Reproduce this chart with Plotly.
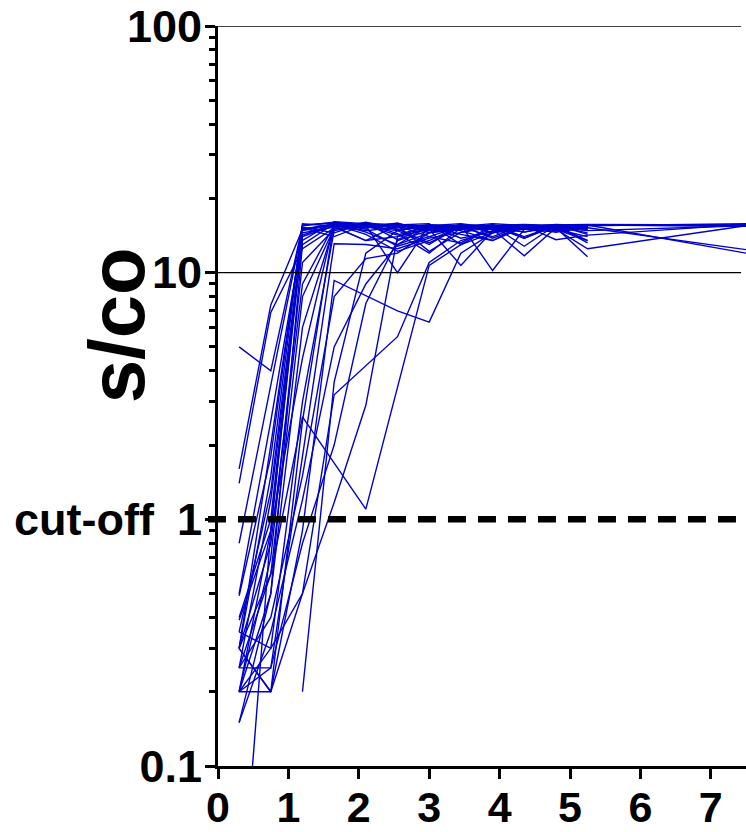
import plotly.graph_objects as go

# Sampling times (x) shared by all subjects
X = [0.3, 0.75, 1.2, 1.65, 2.1, 2.55, 3.0, 3.45, 3.9, 4.35, 4.8, 5.25, 7.5]

# s/co values per subject (None = no sample)
S01 = [1.6, 7.4, 15.0, 15.8, 15.5, 14.2, 15.6, 15.4, 15.8, 15.5, 15.6, 15.7, 15.6]
S02 = [1.4, 6.9, 12.5, 15.2, 16.0, 15.0, 13.2, 15.3, 14.0, 15.6, 15.2, 15.4, None]
S03 = [5.0, 4.0, 15.5, 16.0, 15.6, 15.8, 15.1, 15.5, 13.8, 15.3, 15.7, 15.5, 15.8]
S04 = [0.8, 3.5, 15.3, 14.5, 15.9, 13.6, 15.4, 15.0, 15.5, 14.6, 15.3, 15.6, 15.4]
S05 = [0.5, 2.5, 14.2, 15.7, 14.3, 12.2, 13.5, 15.5, 15.4, 13.8, 15.5, 15.0, None]
S06 = [0.3, 1.5, 15.8, 15.4, 13.5, 15.6, 15.8, 13.0, 15.3, 15.5, 13.6, 14.2, 15.7]
S07 = [0.25, 1.2, 13.5, 16.1, 15.8, 14.4, 12.0, 15.2, 15.6, 13.8, 15.5, 13.5, None]
S08 = [0.2, 0.9, 14.8, 15.6, 15.2, 15.9, 14.5, 15.7, 14.5, 15.6, 15.4, 15.2, 12.4]
S09 = [0.3, 2.0, 15.2, 14.0, 15.7, 15.5, 14.0, 13.2, 15.5, 12.8, 15.6, 14.3, None]
S10 = [0.39, 0.9, 4.5, 15.9, 14.6, 13.0, 15.5, 14.3, 13.5, 15.6, 15.4, 14.5, None]
S11 = [0.35, 0.3, 0.5, 3.2, None, 5.5, 11.0, 13.5, 14.8, 15.2, 15.5, 15.2, None]
S12 = [0.2, 0.2, 2.5, 16.0, 15.3, 14.8, 13.0, 15.6, 15.0, 15.5, 15.2, 14.8, 15.5]
S13 = [0.25, 0.25, 1.8, 13.1, 13.0, 12.5, 13.8, 14.5, 15.3, 15.0, 14.6, 15.2, None]
S14 = [0.15, 0.5, 6.0, 15.4, 15.8, 15.5, 14.8, 15.0, 15.5, 15.7, 15.5, 15.6, 15.5]
S15 = [0.2, 0.3, 3.0, 14.8, 15.5, 10.0, 15.6, 13.8, 14.6, 15.5, 15.0, 14.0, None]
S16 = [0.3, 0.6, 2.6, None, 1.1, None, 10.7, 13.0, 14.5, 15.0, 15.5, 15.4, None]
S17 = [None, None, 0.2, 3.6, 12.0, 14.8, 15.5, 15.2, 15.6, 15.0, 15.3, 15.5, None]
S18 = [0.3, 0.2, 0.5, 1.17, 2.9, 14.0, 15.0, 15.5, 14.6, 15.3, 15.6, 15.0, None]
S19 = [0.2, 0.25, 0.8, 2.0, 7.5, 13.5, 14.8, 15.6, 15.5, 14.0, 15.5, 15.3, None]
S20 = [0.3, 0.2, 0.9, 9.3, None, 7.0, 6.3, 12.0, 14.5, 15.5, 15.0, 12.5, 15.5]
S21 = [0.25, 0.4, 1.5, 8.0, 11.4, 12.0, 14.5, 15.0, 15.4, 15.6, 14.6, 15.5, None]
S22 = [0.15, 0.35, 1.2, 5.0, 9.0, 13.0, 14.5, 15.2, 15.0, 15.6, 15.3, 15.0, None]
S23 = [0.02, 0.9, 14.0, 15.5, 15.2, 15.6, 15.0, 10.7, 14.8, 15.4, 15.6, 15.6, 12.0]
S24 = [0.49, 1.8, 15.6, 15.9, 15.4, 15.0, 15.3, 15.6, 10.2, 15.0, 15.5, 13.2, None]
S25 = [0.2, 0.7, 11.0, 15.0, 15.6, 15.3, 15.6, 15.2, 15.0, 11.7, 15.2, 11.6, None]
S26 = [0.35, 1.3, 14.5, 15.3, 13.5, 14.0, 15.5, 15.8, 15.2, 15.5, 14.8, 15.6, 15.6]
S27 = [0.25, 0.6, 8.0, 15.2, 15.9, 15.5, 12.2, 14.6, 15.6, 15.2, 15.0, 13.5, None]
S28 = [0.4, 1.0, 15.0, 15.6, 14.8, 15.3, 15.6, 15.4, 15.2, 14.6, 15.6, 15.5, None]
S29 = [0.2, 0.5, 13.0, 15.8, 15.0, 12.8, 14.0, 15.4, 15.0, 15.5, 15.4, 15.2, None]
S30 = [0.3, 0.8, 9.0, 15.6, 15.4, 15.7, 15.3, 14.8, 13.5, 15.3, 15.0, 15.4, None]

SERIES = [S01, S02, S03, S04, S05, S06, S07, S08, S09, S10, S11, S12, S13, S14, S15,
          S16, S17, S18, S19, S20, S21, S22, S23, S24, S25, S26, S27, S28, S29, S30]

Y_TICKS = [0.1, 1, 10, 100]
Y_TICK_TEXT = ["0.1", "1", "10", "100"]
Y_MINOR = [0.2, 0.3, 0.4, 0.5, 0.6, 0.7, 0.8, 0.9,
           2, 3, 4, 5, 6, 7, 8, 9,
           20, 30, 40, 50, 60, 70, 80, 90]
X_TICKS = [0, 1, 2, 3, 4, 5, 6, 7]
CUTOFF = 1
GRID_LEVELS = [10, 100]

LINE_COLOR = "#0000CC"
FONT = "Liberation Sans, Arial, sans-serif"

fig = go.Figure()
for s in SERIES:
    fig.add_trace(go.Scatter(x=X, y=s, mode="lines", connectgaps=True,
                             line=dict(color=LINE_COLOR, width=1.4),
                             showlegend=False, hoverinfo="skip"))

shapes = []
for g in GRID_LEVELS:
    shapes.append(dict(type="line", xref="x", yref="y", x0=0, x1=7.43, y0=g, y1=g,
                       line=dict(color="black", width=1.3), layer="above"))
shapes.append(dict(type="line", xref="paper", yref="y", x0=-0.019, x1=1.0,
                   y0=CUTOFF, y1=CUTOFF,
                   line=dict(color="black", width=6.5, dash="18px,12px"), layer="above"))

fig.update_layout(
    width=746, height=832,
    margin=dict(l=218, r=0, t=26, b=66, autoexpand=False),
    plot_bgcolor="white", paper_bgcolor="white",
    font=dict(family=FONT, color="black"),
    shapes=shapes,
    xaxis=dict(range=[0, 7.5], tickvals=X_TICKS, showgrid=False, zeroline=False,
               automargin=False,
               showline=True, linecolor="black", linewidth=3,
               ticks="outside", ticklen=10, tickwidth=3, tickcolor="black",
               tickfont=dict(family=FONT, size=43, weight="bold", color="black"),
               ticklabelstandoff=-9),
    yaxis=dict(type="log", range=[-1, 2], tickvals=Y_TICKS, ticktext=Y_TICK_TEXT,
               showgrid=False, zeroline=False, automargin=False,
               showline=True, linecolor="black", linewidth=3,
               ticks="outside", ticklen=10, tickwidth=3, tickcolor="black",
               tickfont=dict(family=FONT, size=45, weight="bold", color="black"),
               ticklabelstandoff=-6,
               minor=dict(tickmode="array", tickvals=Y_MINOR, ticks="outside",
                          ticklen=6, tickwidth=3, tickcolor="black", showgrid=False)),
    annotations=[
        dict(text="cut-off", xref="paper", yref="y", x=-0.116, y=0,
             xanchor="right", yanchor="middle", showarrow=False,
             font=dict(family=FONT, size=45, weight="bold", color="black")),
        dict(text="s/co", xref="paper", yref="paper", x=-0.192, y=0.595,
             xanchor="center", yanchor="middle", textangle=-90, showarrow=False,
             font=dict(family=FONT, size=78, weight="bold", color="black")),
    ],
)

fig.write_html("out.html")
